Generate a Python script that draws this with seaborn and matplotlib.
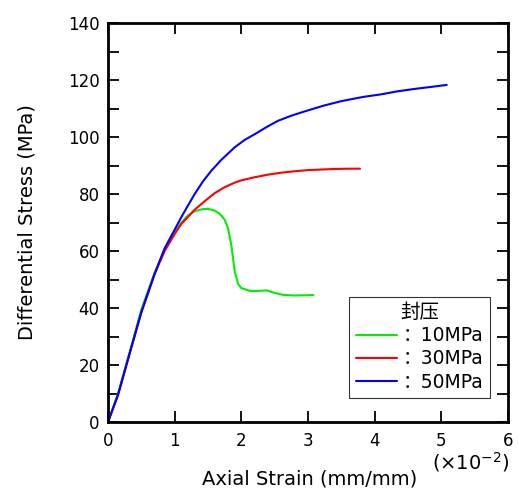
import numpy as np
import pandas as pd
import matplotlib
matplotlib.use("Agg")
import matplotlib.pyplot as plt
import seaborn as sns
from matplotlib.lines import Line2D

# Dados (deformação em 1e-2, tensão em MPa)
strain_10 = [0, 0.15, 0.33, 0.5, 0.7, 0.85, 1.0, 1.1, 1.2, 1.3, 1.42, 1.5, 1.6, 1.68, 1.75, 1.8,
             1.85, 1.9, 1.95, 2.0, 2.13, 2.25, 2.38, 2.5, 2.63, 2.8, 3.0, 3.08]
stress_10 = [0, 10, 25, 39.5, 52.5, 60.5, 66.5, 70, 72.5, 74, 74.7, 74.8, 74.2, 73, 71, 68,
             62, 53, 48.5, 47, 46, 46, 46.2, 45.3, 44.6, 44.4, 44.5, 44.6]

strain_30 = [0, 0.15, 0.33, 0.5, 0.7, 0.85, 1.0, 1.1, 1.2, 1.3, 1.45, 1.6, 1.75, 1.9, 2.0, 2.2,
             2.4, 2.6, 2.8, 3.0, 3.2, 3.4, 3.6, 3.78]
stress_30 = [0, 9.5, 24.5, 38.5, 52, 60, 66, 69.5, 72, 74.5, 77.5, 80.3, 82.4, 84, 84.8, 85.9,
             86.8, 87.5, 88, 88.4, 88.6, 88.8, 88.9, 88.9]

strain_50 = [0, 0.15, 0.33, 0.5, 0.7, 0.85, 1.0, 1.1, 1.2, 1.3, 1.42, 1.55, 1.7, 1.9, 2.05, 2.2,
             2.4, 2.55, 2.75, 2.95, 3.23, 3.5, 3.83, 4.1, 4.33, 4.6, 4.85, 5.08]
stress_50 = [0, 9.5, 24.5, 38.5, 52, 61, 67.5, 71.9, 76, 80, 84.3, 88.2, 92, 96.4, 99, 101,
             103.8, 105.7, 107.5, 109, 111, 112.6, 114.1, 115, 116, 116.9, 117.6, 118.3]

labels = ["：10MPa", "：30MPa", "：50MPa"]
colors = ["#00ee00", "#ff0000", "#0000ff"]

df = pd.concat([
    pd.DataFrame({"strain": strain_10, "stress": stress_10, "grupo": labels[0]}),
    pd.DataFrame({"strain": strain_30, "stress": stress_30, "grupo": labels[1]}),
    pd.DataFrame({"strain": strain_50, "stress": stress_50, "grupo": labels[2]}),
])

# Estilo gráfico
sns.set_style("ticks")
plt.rcParams["font.family"] = ["DejaVu Sans", "Noto Sans CJK SC"]
plt.rcParams["mathtext.fontset"] = "dejavusans"
plt.rcParams["mathtext.default"] = "rm"
plt.rcParams["text.color"] = "black"
plt.rcParams["axes.labelcolor"] = "black"

fig = plt.figure(figsize=(5.18, 4.91), dpi=100)
ax = fig.add_axes([0.2085, 0.1405, 0.7722, 0.8125])

sns.lineplot(data=df, x="strain", y="stress", hue="grupo", palette=dict(zip(labels, colors)),
             sort=False, estimator=None, linewidth=1.5, legend=False, ax=ax)

ax.set_xlim(0, 6)
ax.set_ylim(0, 140)
ax.set_xticks(range(0, 7))
ax.set_yticks(range(0, 141, 20))
ax.set_yticks(range(10, 141, 20), minor=True)
ax.tick_params(axis="both", which="both", direction="in", top=True, right=True,
               length=8, width=1.3, labelsize=12, colors="black")
ax.tick_params(axis="x", pad=7)
ax.tick_params(axis="y", pad=6)
for s in ax.spines.values():
    s.set_linewidth(2)
    s.set_color("black")

ax.set_xlabel("Axial Strain (mm/mm)", fontsize=14)
ax.set_ylabel("Differential Stress (MPa)", fontsize=14)
ax.xaxis.set_label_coords(0.505, -0.12)
ax.yaxis.set_label_coords(-0.18, 0.5)
fig.text(0.908, 0.058, "(×10$^{-2}$)", fontsize=14, ha="center", va="center")

handles = [Line2D([], [], color=c, lw=1.5) for c in colors]
leg = ax.legend(handles, labels, title="封压", loc="lower left", bbox_to_anchor=(0.603, 0.06),
                fontsize=13.5, title_fontsize=14, frameon=True, fancybox=False,
                handlelength=2.2, handletextpad=0.3, borderpad=0.35, labelspacing=0.22,
                borderaxespad=0)
leg.get_frame().set_edgecolor("black")
leg.get_frame().set_linewidth(0.8)

plt.savefig("out.png", dpi=100)
